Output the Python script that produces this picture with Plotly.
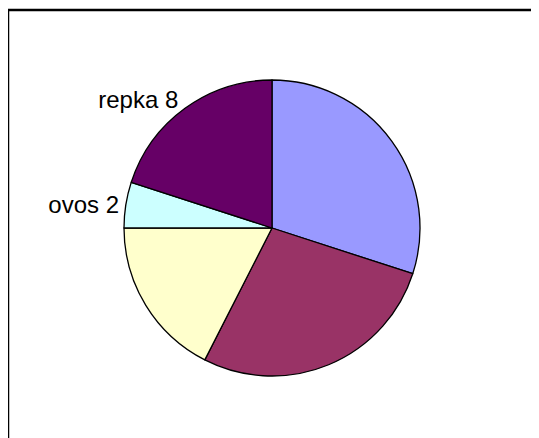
import plotly.graph_objects as go

# Data (clockwise from 12 o'clock)
labels = ["pšenica", "jačmeň", "kukurica", "ovos", "repka"]
values = [12, 11, 7, 2, 8]
show_label = [False, False, False, True, True]
colors = ["#9999FF", "#993366", "#FFFFCC", "#CCFFFF", "#660066"]

W, H = 539, 438
# page has an 8px body margin, so figure coords = screen coords - 8
cx, cy, r = 264, 220, 148

texts = [f"{l} {v}" if s else "" for l, v, s in zip(labels, values, show_label)]

fig = go.Figure(go.Pie(
    labels=labels,
    values=values,
    text=texts,
    textinfo="text",
    textposition="outside",
    sort=False,
    direction="clockwise",
    rotation=0,
    marker=dict(colors=colors, line=dict(color="black", width=1.3)),
    textfont=dict(family="Liberation Sans", size=24, color="black"),
    domain=dict(x=[(cx - r) / W, (cx + r) / W], y=[1 - (cy + r) / H, 1 - (cy - r) / H]),
    showlegend=False,
    hoverinfo="label+value",
))

fig.update_layout(
    width=W, height=H,
    margin=dict(l=0, r=0, t=0, b=0),
    paper_bgcolor="white",
    plot_bgcolor="white",
    shapes=[dict(type="rect", xref="paper", yref="paper",
                 x0=0, x1=1.05, y0=-0.05, y1=1 - 2 / H,
                 line=dict(color="black", width=2.5), fillcolor="rgba(0,0,0,0)")],
)

fig.write_html("out.html")
